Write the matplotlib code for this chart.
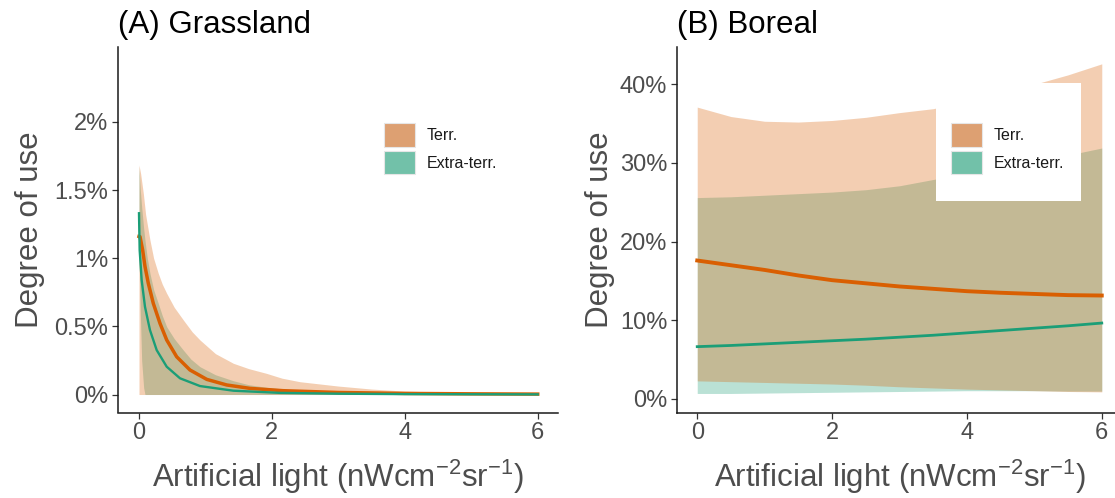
import numpy as np
import matplotlib
matplotlib.use("Agg")
import matplotlib.pyplot as plt
from matplotlib.patches import Patch, Rectangle
from matplotlib.ticker import FuncFormatter

plt.rcParams["font.family"] = ["Liberation Sans", "DejaVu Sans"]
plt.rcParams["mathtext.default"] = "regular"

ORANGE = "#D95F02"
GREEN = "#1B9E77"
GREY = "#4D4D4D"

# ---- (A) Grassland, values in % ----
a_terr_x = [0, 0.015, 0.055, 0.09, 0.14, 0.215, 0.316, 0.417, 0.567, 0.767, 1.02, 1.32, 1.67, 2.17, 3, 4, 5, 6]
a_terr_y = [1.16, 1.158, 1.06, 0.94, 0.816, 0.669, 0.522, 0.40, 0.277, 0.18, 0.111, 0.07, 0.045, 0.028, 0.015, 0.008, 0.005, 0.003]

a_extra_x = [0, 0.01, 0.04, 0.09, 0.165, 0.266, 0.417, 0.617, 0.918, 1.42, 2.12, 3, 4, 5, 6]
a_extra_y = [1.33, 1.06, 0.84, 0.644, 0.473, 0.326, 0.204, 0.119, 0.062, 0.028, 0.012, 0.006, 0.003, 0.002, 0.001]

a_terr_band_x = [0, 0.025, 0.065, 0.1, 0.165, 0.22, 0.29, 0.35, 0.417, 0.53, 0.667, 0.8, 0.918,
                 1.15, 1.42, 1.65, 1.92, 2.15, 2.42, 3, 3.5, 4, 5, 6]
a_terr_hi = [1.684, 1.62, 1.476, 1.32, 1.133, 1.0, 0.889, 0.81, 0.742, 0.64, 0.547, 0.46, 0.40,
             0.30, 0.229, 0.19, 0.155, 0.12, 0.094, 0.062, 0.04, 0.025, 0.012, 0.007]
a_terr_lo = [0] * len(a_terr_band_x)

a_extra_band_x = [0, 0.02, 0.04, 0.07, 0.09, 0.125, 0.165, 0.22, 0.29, 0.35, 0.417, 0.53, 0.667,
                  0.78, 0.918, 1.15, 1.42, 1.65, 1.92, 2.42, 3, 4, 5, 6]
a_extra_hi = [1.67, 1.50, 1.378, 1.22, 1.133, 1.0, 0.889, 0.77, 0.669, 0.58, 0.497, 0.41, 0.326,
              0.26, 0.204, 0.145, 0.101, 0.072, 0.053, 0.028, 0.015, 0.007, 0.004, 0.003]
a_extra_lo = [1.05, 0.6, 0.25, 0.05] + [0] * 20

# ---- (B) Boreal, values in % ----
b_x = [0, 0.5, 1, 1.5, 2, 2.5, 3, 3.5, 4, 4.5, 5, 5.5, 6]
b_terr_y = [17.6, 17.0, 16.4, 15.7, 15.1, 14.7, 14.3, 14.0, 13.7, 13.5, 13.35, 13.2, 13.15]
b_extra_y = [6.65, 6.8, 7.0, 7.2, 7.4, 7.6, 7.85, 8.1, 8.4, 8.7, 9.0, 9.3, 9.65]
b_terr_hi = [37.1, 35.9, 35.3, 35.2, 35.4, 35.8, 36.4, 36.9, 37.8, 38.9, 40.0, 41.2, 42.6]
b_terr_lo = [2.3, 2.2, 2.1, 2.0, 1.9, 1.75, 1.55, 1.4, 1.25, 1.15, 1.05, 0.95, 0.9]
b_extra_hi = [25.6, 25.7, 25.9, 26.1, 26.3, 26.6, 27.1, 27.9, 28.7, 29.5, 30.3, 31.0, 31.9]
b_extra_lo = [0.7, 0.7, 0.75, 0.8, 0.85, 0.9, 0.95, 1.0, 1.05, 1.05, 1.05, 1.0, 1.0]

legend_labels = ["Terr.", "Extra-terr."]
legend_colors = ["#DDA072", "#72C1A9"]

W, H = 1115, 498
fig = plt.figure(figsize=(W / 100, H / 100), dpi=100)
axA = fig.add_axes([118 / W, 1 - 412.5 / H, 440 / W, 365.5 / H])
axB = fig.add_axes([677 / W, 1 - 412.5 / H, 445 / W, 365.5 / H])


def style(ax, title, yticks, fmt):
    for s in ["top", "right"]:
        ax.spines[s].set_visible(False)
    for s in ["left", "bottom"]:
        ax.spines[s].set_linewidth(1.1)
        ax.spines[s].set_color("#1A1A1A")
    ax.set_xticks([0, 2, 4, 6])
    ax.set_yticks(yticks)
    ax.yaxis.set_major_formatter(FuncFormatter(fmt))
    ax.tick_params(length=4, width=0.9, color="#333333", labelcolor=GREY,
                   labelsize=17, pad=3)
    ax.set_title(title, loc="left", fontsize=22.5, pad=10, color="black")
    ax.set_ylabel("Degree of use", fontsize=22.5, color=GREY)
    ax.set_xlabel(r"Artificial light (nWcm$^{-2}$sr$^{-1}$)", fontsize=22.5, color=GREY)


# Panel A
axA.fill_between(a_extra_band_x, a_extra_lo, a_extra_hi, color=GREEN, alpha=0.3, lw=0)
axA.fill_between(a_terr_band_x, a_terr_lo, a_terr_hi, color=ORANGE, alpha=0.3, lw=0)
axA.plot(a_terr_x, a_terr_y, color=ORANGE, lw=2.5)
axA.plot(a_extra_x, a_extra_y, color=GREEN, lw=1.7)
axA.set_xlim(-0.316, 6.305)
axA.set_ylim(-0.132, 2.55)
style(axA, "(A) Grassland", [0, 0.5, 1, 1.5, 2], lambda v, p: f"{v:g}%")
axA.yaxis.set_label_coords(-0.165, 0.5)
axA.xaxis.set_label_coords(0.5, -0.125)

# Panel B
axB.fill_between(b_x, b_extra_lo, b_extra_hi, color=GREEN, alpha=0.3, lw=0)
axB.fill_between(b_x, b_terr_lo, b_terr_hi, color=ORANGE, alpha=0.3, lw=0)
axB.plot(b_x, b_terr_y, color=ORANGE, lw=2.8)
axB.plot(b_x, b_extra_y, color=GREEN, lw=2.0)
axB.set_xlim(-0.3, 6.3)
axB.set_ylim(-1.72, 44.74)
style(axB, "(B) Boreal", [0, 10, 20, 30, 40], lambda v, p: f"{v:g}%")
axB.yaxis.set_label_coords(-0.14, 0.5)
axB.xaxis.set_label_coords(0.5, -0.125)
# white legend background covering the ribbons
axB.add_patch(Rectangle((936 / W, 1 - 201 / H), (1081 - 936) / W, (201 - 83) / H,
                        transform=fig.transFigure, facecolor="white",
                        edgecolor="none", zorder=3))

handles = [Patch(facecolor=c, edgecolor="#E6E6E6", lw=0.8) for c in legend_colors]
fs = 11.5
fs_px = fs * 100 / 72
for ax, xk in [(axA, 384), (axB, 951)]:
    leg = ax.legend(handles, legend_labels, loc="upper left",
                    bbox_to_anchor=(xk / W, 1 - 123 / H), bbox_transform=fig.transFigure,
                    frameon=False, borderpad=0, borderaxespad=0, fontsize=fs,
                    handlelength=31 / fs_px, handleheight=30.5 / fs_px,
                    handletextpad=12 / fs_px, labelspacing=4 / fs_px)
    leg.set_zorder(5)
    for t in leg.get_texts():
        t.set_color("#1A1A1A")

fig.savefig("out.png", dpi=100)
